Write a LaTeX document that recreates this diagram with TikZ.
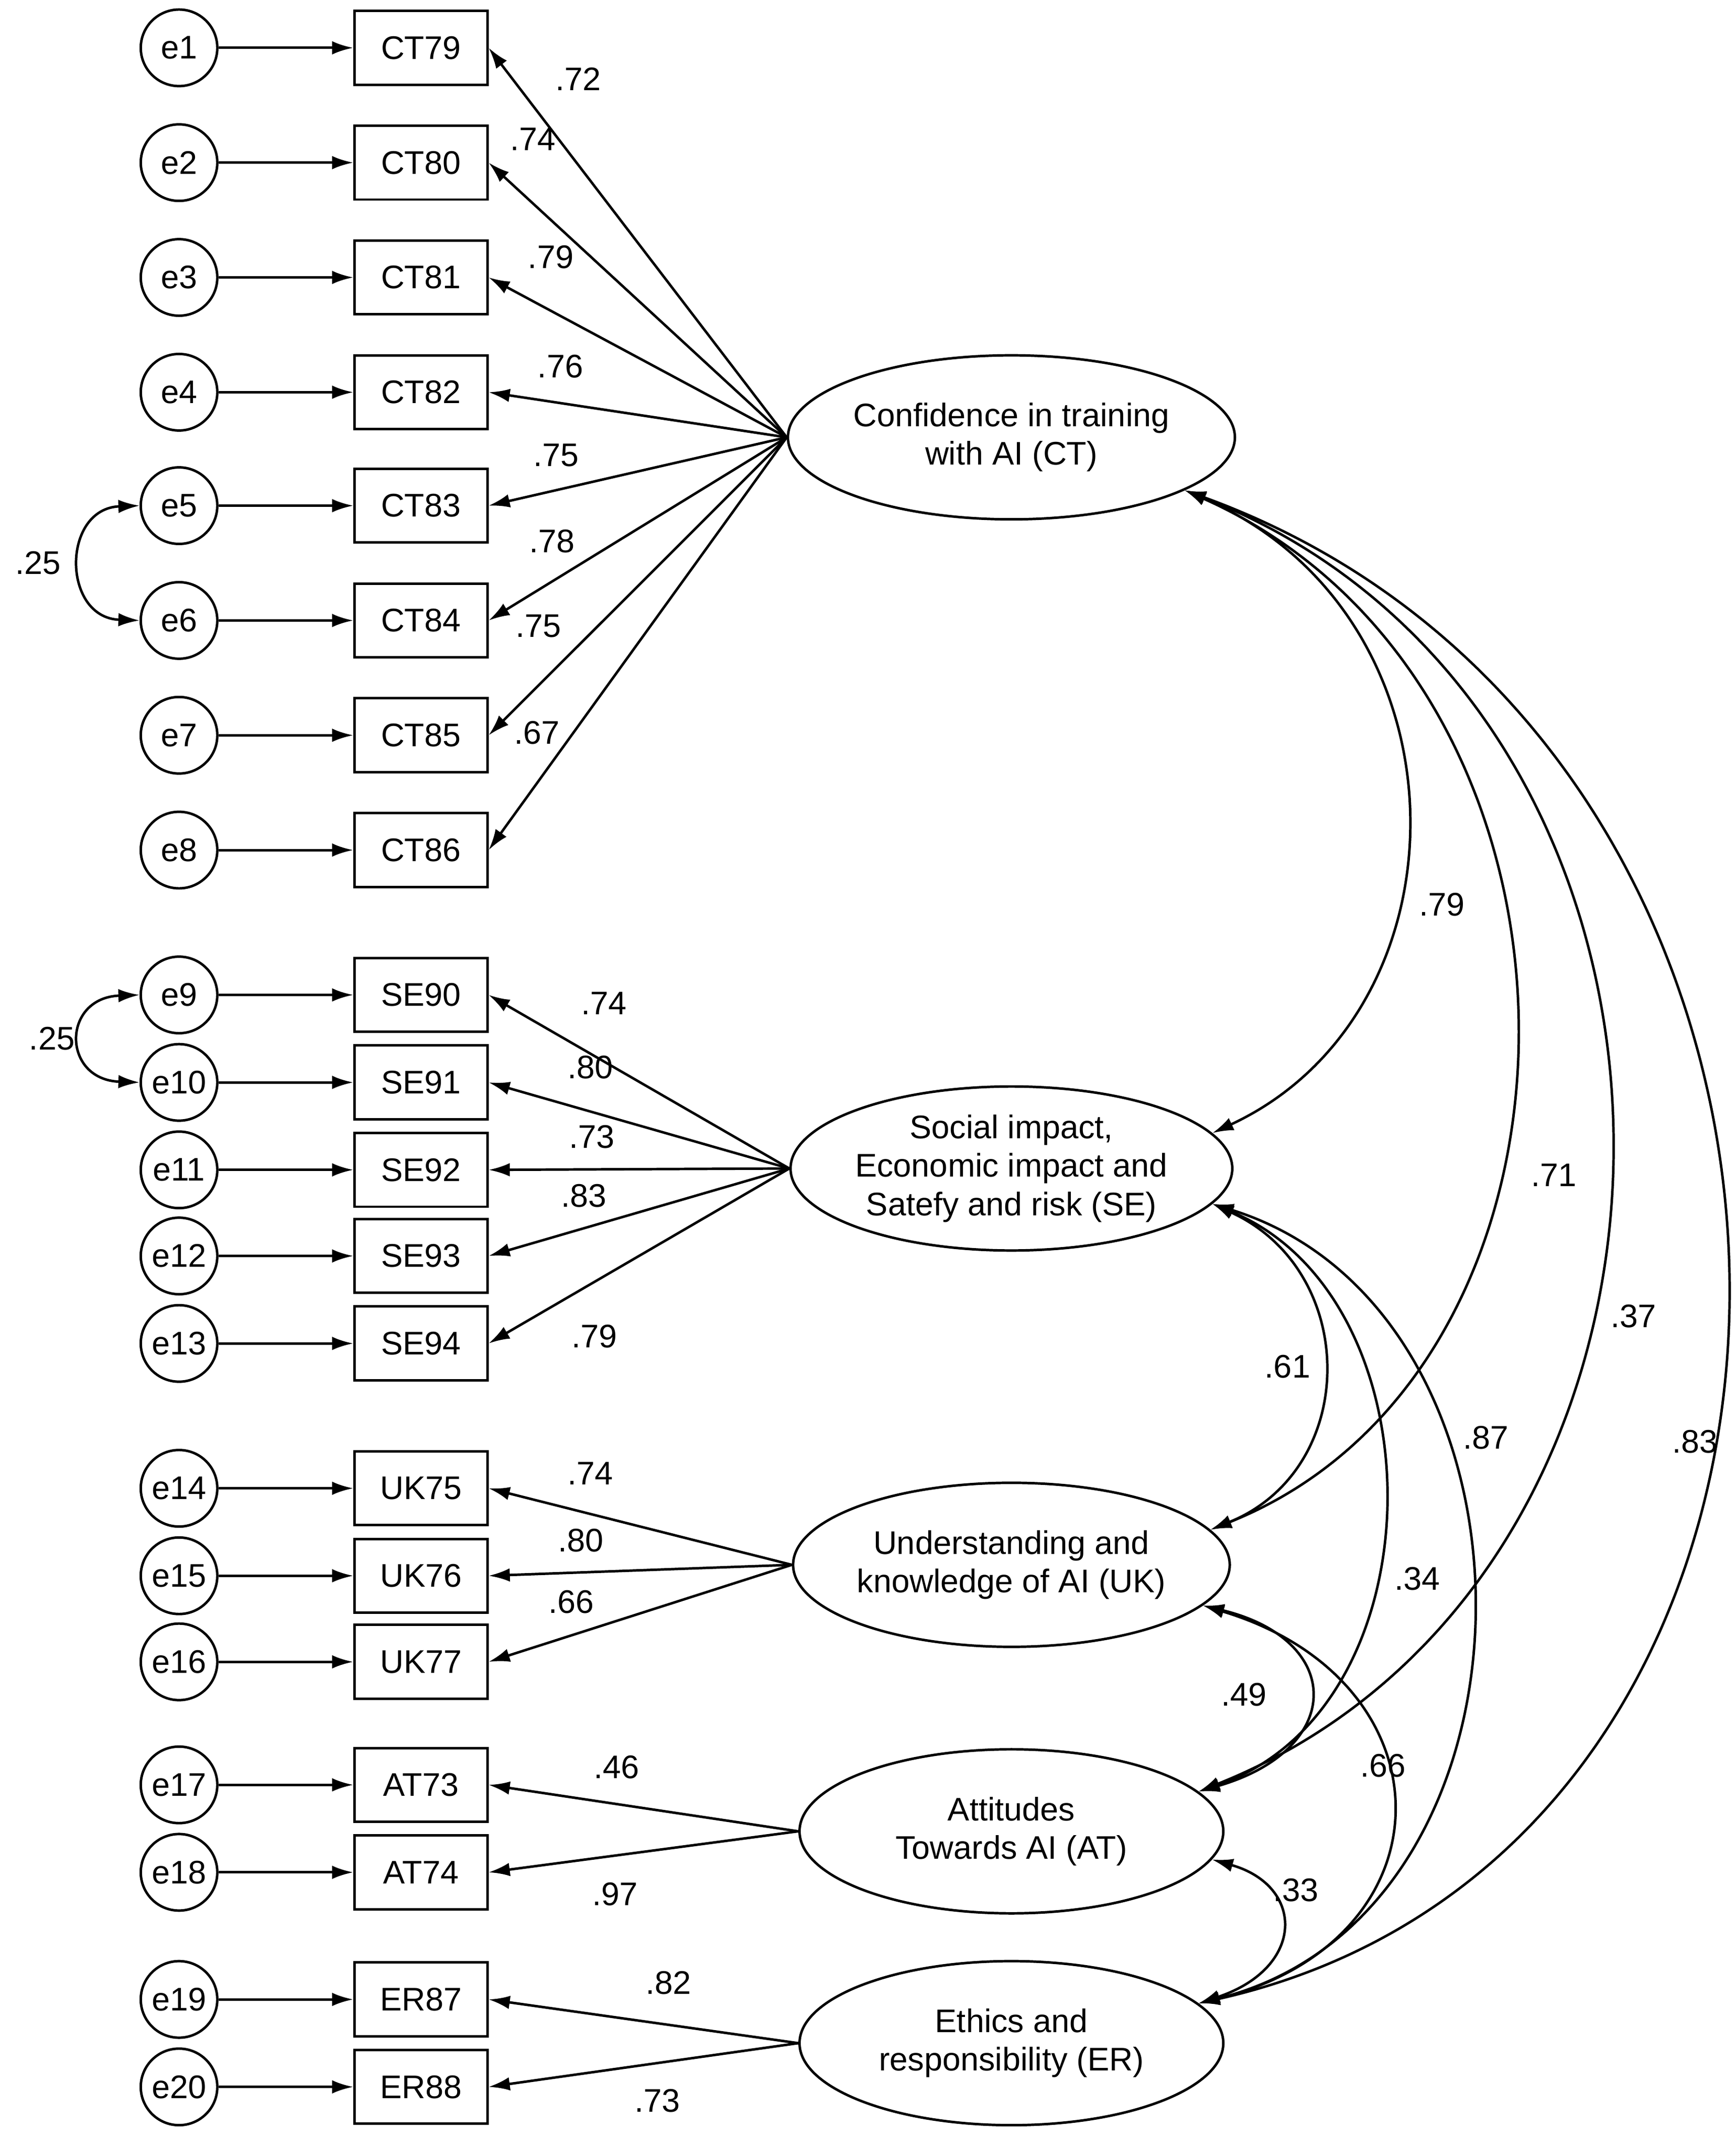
\documentclass[tikz,border=0pt]{standalone}
\usepackage{fontspec}
\setmainfont{Liberation Sans}
\usetikzlibrary{arrows.meta,shapes.geometric}
\begin{document}
\begin{tikzpicture}[x=0.025cm,y=-0.025cm,
  font=\fontsize{17}{20}\selectfont,
  err/.style={circle,draw,line width=1.3pt,minimum size=1.4cm,inner sep=0pt},
  box/.style={rectangle,draw,line width=1.3pt,minimum width=2.43cm,minimum height=1.35cm,inner sep=0pt},
  lat/.style={ellipse,draw,line width=1.3pt,minimum width=7.75cm,minimum height=3cm,align=center,inner sep=0pt},
  arr/.style={line width=1.3pt,-{Latex[length=11pt,width=7pt]}},
  cov/.style={line width=1.3pt,{Latex[length=11pt,width=7pt]}-{Latex[length=11pt,width=7pt]}},
  lab/.style={inner sep=1pt}]
\useasboundingbox (0,0) rectangle (1270,1571);
% indicators
\foreach \i/\n/\y in {1/CT79/35,2/CT80/119,3/CT81/203,4/CT82/287,5/CT83/370,6/CT84/454,7/CT85/538,8/CT86/622,
  9/SE90/728,10/SE91/792,11/SE92/856,12/SE93/919,13/SE94/983,14/UK75/1089,15/UK76/1153,16/UK77/1216,
  17/AT73/1306,18/AT74/1370,19/ER87/1463,20/ER88/1527}{
  \node[err] (e\i) at (131,\y) {e\i};
  \node[box] (\n) at (308,\y) {\n};
  \draw[arr] (e\i) -- (\n);
}
% latents
\node[lat] (CT) at (740,320) {Confidence in training\\with AI (CT)};
\node[lat] (SE) at (740,855) {Social impact,\\Economic impact and\\Satefy and risk (SE)};
\node[lat] (UK) at (740,1145) {Understanding and\\knowledge of AI (UK)};
\node[lat] (AT) at (740,1340) {Attitudes\\Towards AI (AT)};
\node[lat] (ER) at (740,1495) {Ethics and\\responsibility (ER)};
% loadings
\foreach \n in {CT79,CT80,CT81,CT82,CT83,CT84,CT85,CT86}{\draw[arr] (CT.west) -- (\n.east);}
\foreach \n in {SE90,SE91,SE92,SE93,SE94}{\draw[arr] (SE.west) -- (\n.east);}
\foreach \n in {UK75,UK76,UK77}{\draw[arr] (UK.west) -- (\n.east);}
\foreach \n in {AT73,AT74}{\draw[arr] (AT.west) -- (\n.east);}
\foreach \n in {ER87,ER88}{\draw[arr] (ER.west) -- (\n.east);}
\foreach \t/\x/\y [count=\k] in {.72/423/58,.74/390/102,.79/403/188,.76/410/268,.75/407/333,.78/404/396,.75/394/458,.67/393/536,
  .74/442/734,.80/432/781,.73/433/832,.83/427/875,.79/435/978,.74/432/1078,.80/425/1127,.66/418/1172,
  .46/451/1293,.97/450/1386,.82/489/1451,.73/481/1537}{\node[lab] (l\k) at (\x,\y) {\t};}
% error covariances
\draw[cov] (e5.west) .. controls (45,372) and (45,452) .. (e6.west);
\node[lab] (c56) at (28,412) {.25};
\draw[cov] (e9.west) .. controls (45,730) and (45,790) .. (e10.west);
\node[lab] (c910) at (38,760) {.25};
% factor covariances
\draw[cov] (CT.-17) .. controls (1079,450) and (1079,740) .. (SE.10);
\draw[cov] (CT.-17) .. controls (1185,500) and (1185,1000) .. (UK.10);
\draw[cov] (CT.-17) .. controls (1279,520) and (1279,1150) .. (AT.12);
\draw[cov] (CT.-17) .. controls (1392,550) and (1392,1350) .. (ER.12);
\draw[cov] (SE.-10) .. controls (995,930) and (995,1075) .. (UK.10);
\draw[cov] (SE.-10) .. controls (1055,950) and (1055,1250) .. (AT.12);
\draw[cov] (SE.-10) .. controls (1141,960) and (1141,1400) .. (ER.12);
\draw[cov] (UK.-12) .. controls (984,1200) and (984,1280) .. (AT.12);
\draw[cov] (UK.-12) .. controls (1064,1230) and (1064,1420) .. (ER.12);
\draw[cov] (AT.-8) .. controls (955,1380) and (955,1440) .. (ER.12);
\node[lab] (k1) at (1055,662) {.79};
\node[lab] (k2) at (1137,860) {.71};
\node[lab] (k3) at (1195,963) {.37};
\node[lab] (k4) at (1240,1055) {.83};
\node[lab] (k5) at (942,1000) {.61};
\node[lab] (k6) at (1037,1155) {.34};
\node[lab] (k7) at (1087,1052) {.87};
\node[lab] (k8) at (910,1240) {.49};
\node[lab] (k9) at (1012,1292) {.66};
\node[lab] (k10) at (948,1383) {.33};
\end{tikzpicture}
\end{document}
